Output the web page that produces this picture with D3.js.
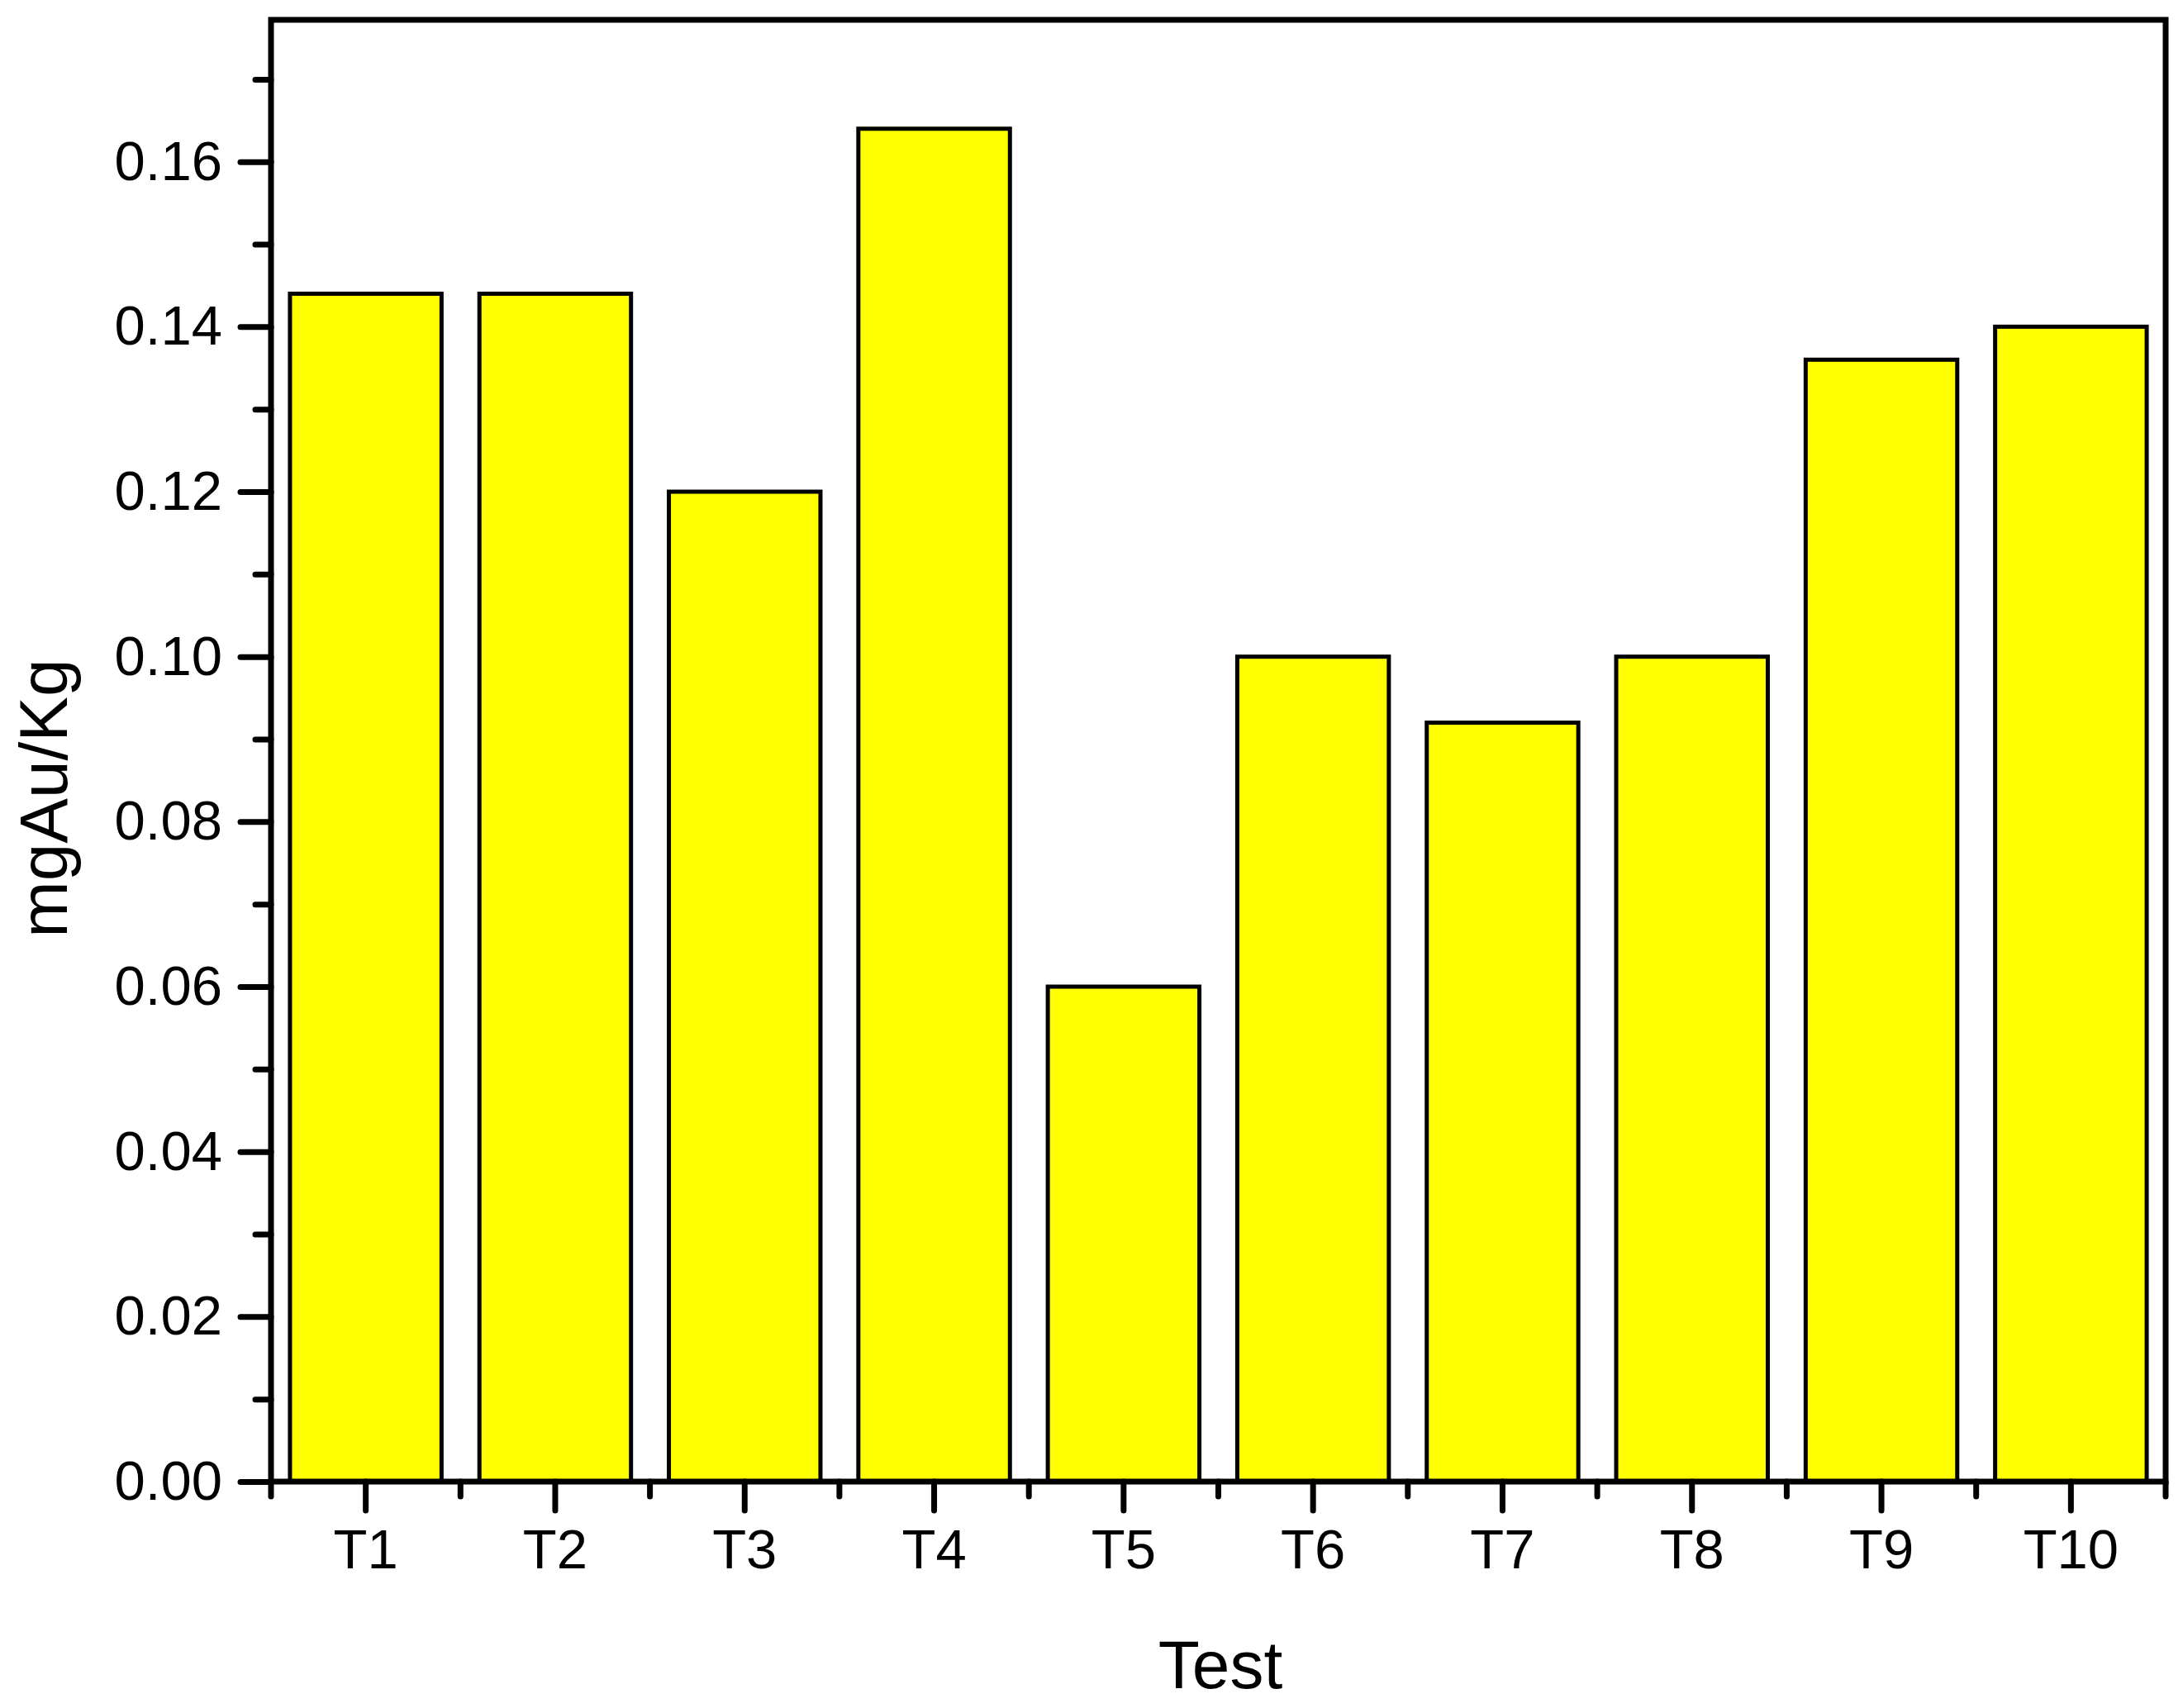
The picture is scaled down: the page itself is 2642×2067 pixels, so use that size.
<!DOCTYPE html>
<html>
<head>
<meta charset="utf-8">
<script src="https://cdn.jsdelivr.net/npm/d3@7"></script>
<style>
  body { margin: 0; background: #fff; }
  text { font-family: "Liberation Sans", Arial, sans-serif; fill: #000; }
</style>
</head>
<body>
<svg id="chart" width="2642" height="2067"></svg>
<script>
// data
var categories = ["T1", "T2", "T3", "T4", "T5", "T6", "T7", "T8", "T9", "T10"];
var values = [0.144, 0.144, 0.120, 0.164, 0.060, 0.100, 0.092, 0.100, 0.136, 0.140];
var yTicks = [0, 0.02, 0.04, 0.06, 0.08, 0.10, 0.12, 0.14, 0.16];
var yMinorTicks = [0.01, 0.03, 0.05, 0.07, 0.09, 0.11, 0.13, 0.15, 0.17];

var plotLeft = 328, plotRight = 2621, plotTop = 24, plotBottom = 1793;
var svg = d3.select("#chart");

var x = d3.scaleBand().domain(categories).range([plotLeft, plotRight]).paddingInner(0.2).paddingOuter(0.1);
var y = d3.scaleLinear().domain([0, 0.1772]).range([plotBottom, plotTop]);

// bars
svg.append("g").selectAll("rect")
  .data(values)
  .enter().append("rect")
  .attr("x", (d, i) => x(categories[i]))
  .attr("width", x.bandwidth())
  .attr("y", d => y(d))
  .attr("height", d => plotBottom - y(d))
  .attr("fill", "#ffff00")
  .attr("stroke", "#000")
  .attr("stroke-width", 5);

// y axis: major + minor ticks
var yAxis = d3.axisLeft(y).tickValues(yTicks).tickFormat(d3.format(".2f")).tickSize(37).tickPadding(22);
var gy = svg.append("g").attr("transform", "translate(" + plotLeft + ",0)").call(yAxis);
gy.selectAll("text").style("font-size", "67px");
svg.append("g").attr("transform", "translate(" + plotLeft + ",0)")
  .call(d3.axisLeft(y).tickValues(yMinorTicks).tickSize(19).tickFormat(""));

// x axis: major ticks at centres, minor ticks at band edges
var step = x.step();
var gx = svg.append("g").attr("transform", "translate(0," + plotBottom + ")")
  .call(d3.axisBottom(x).tickSize(35).tickPadding(22));
gx.selectAll("text").style("font-size", "67px");
var edges = categories.map(c => x(c) - step * x.paddingInner() / 2);
edges.push(plotRight);
svg.append("g").selectAll("line")
  .data(edges)
  .enter().append("line")
  .attr("x1", d => d).attr("x2", d => d)
  .attr("y1", plotBottom).attr("y2", plotBottom + 18)
  .attr("stroke", "#000").attr("stroke-width", 7).attr("stroke-linecap", "round");

svg.selectAll(".tick line").attr("stroke-width", 7).attr("stroke-linecap", "round");
svg.selectAll(".domain").remove();

// frame
svg.append("rect")
  .attr("x", plotLeft).attr("y", plotTop)
  .attr("width", plotRight - plotLeft).attr("height", plotBottom - plotTop)
  .attr("fill", "none").attr("stroke", "#000").attr("stroke-width", 7);

// titles
svg.append("text").attr("x", 1477).attr("y", 2043)
  .attr("text-anchor", "middle").style("font-size", "82px").text("Test");
svg.append("text").attr("transform", "translate(81,966) rotate(-90)")
  .attr("text-anchor", "middle").style("font-size", "82px").text("mgAu/Kg");
</script>
</body>
</html>
